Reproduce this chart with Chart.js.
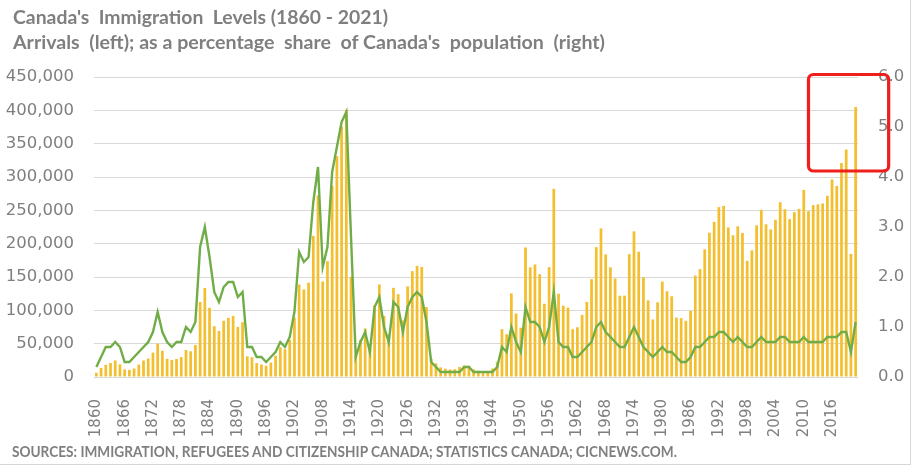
<!DOCTYPE html>
<html>
<head>
<meta charset="utf-8">
<title>Canada's Immigration Levels (1860 - 2021)</title>
<script src="https://cdn.jsdelivr.net/npm/chart.js@4.4.1/dist/chart.umd.min.js"></script>
<style>
  html, body { margin: 0; padding: 0; background: #fff; }
  #wrap { position: relative; width: 914px; height: 470px; overflow: hidden; }
  #frame { position: absolute; left: 0; top: 0; width: 910px; height: 464px;
           border-right: 1px solid #d6d6d6; border-bottom: 1px solid #d6d6d6; }
  canvas { position: absolute; left: 0; top: 0; }
  .txt { position: absolute; left: 13px; white-space: pre; line-height: 1;
         font-family: Lato, "Open Sans", sans-serif; font-weight: 700; color: #7f7f7f;
         transform-origin: left center; }
  #t1 { top: 8px; font-size: 18px; }
  #t2 { top: 33px; font-size: 18px; }
  #src { top: 444px; left: 12px; font-size: 15px; }
</style>
</head>
<body>
<div id="wrap">
  <div id="frame"></div>
  <canvas id="immigrationChart" width="914" height="470"></canvas>
  <div class="txt" id="t1" data-w="375">Canada's  Immigration  Levels (1860 - 2021)</div>
  <div class="txt" id="t2" data-w="592">Arrivals  (left); as a percentage  share  of Canada's  population  (right)</div>
  <div class="txt" id="src" data-w="665">SOURCES: IMMIGRATION, REFUGEES AND CITIZENSHIP CANADA; STATISTICS CANADA; CICNEWS.COM.</div>
</div>
<script>
// Años 1860 - 2021 (una categoría por año)
const years = [];
for (let y = 1860; y <= 2021; y++) years.push(String(y));

// Etiquetas visibles del eje X (cada 6 años)
const xTickLabels = ['1860', '1866', '1872', '1878', '1884', '1890', '1896', '1902', '1908',
  '1914', '1920', '1926', '1932', '1938', '1944', '1950', '1956', '1962', '1968', '1974',
  '1980', '1986', '1992', '1998', '2004', '2010', '2016'];

// Llegadas (eje izquierdo)
const arrivals = [
  6276, 13589, 18294, 21000, 24779, 18958, 11427, 10666, 12765, 18630,          // 1860s
  24706, 27773, 36578, 50050, 39373, 27382, 25633, 27082, 29807, 40492,         // 1870s
  38505, 47991, 112458, 133624, 103824, 76169, 69152, 84526, 88766, 91600,      // 1880s
  75067, 82165, 30996, 29633, 20829, 18790, 16835, 21716, 31900, 44543,         // 1890s
  41681, 55747, 89102, 138660, 131252, 141465, 211653, 272409, 143326, 173694,  // 1900s
  286839, 331288, 375756, 400870, 150484, 33665, 55914, 72910, 41845, 107698,   // 1910s
  138824, 91728, 64224, 133729, 124164, 84907, 135982, 158886, 166783, 164993,  // 1920s
  104806, 27530, 20591, 14382, 12476, 11277, 11643, 15101, 17244, 16994,        // 1930s
  11324, 9329, 7576, 8504, 12801, 22722, 71719, 64127, 125414, 95217,           // 1940s
  73912, 194391, 164498, 168868, 154227, 109946, 164857, 282164, 124851, 106928, // 1950s
  104111, 71689, 74586, 93151, 112606, 146758, 194743, 222876, 183974, 164531,  // 1960s
  147713, 121900, 122006, 184200, 218465, 187881, 149429, 114914, 86313, 112096, // 1970s
  143117, 128618, 121147, 89157, 88239, 84302, 99219, 152098, 161929, 191550,   // 1980s
  216452, 232744, 254817, 256641, 224364, 212504, 226073, 216038, 174200, 189954, // 1990s
  227458, 250638, 229048, 221349, 235823, 262242, 251640, 236753, 247243, 252179, // 2000s
  280681, 248748, 257887, 259023, 260404, 271845, 296346, 286479, 321035, 341180, // 2010s
  184606, 405000                                                                 // 2020-21
];

// Porcentaje de la población (eje derecho)
const shareOfPopulation = [
  0.2, 0.4, 0.6, 0.6, 0.7, 0.6, 0.3, 0.3, 0.4, 0.5,   // 1860s
  0.6, 0.7, 0.9, 1.3, 0.9, 0.7, 0.6, 0.7, 0.7, 1.0,   // 1870s
  0.9, 1.1, 2.6, 3.0, 2.4, 1.7, 1.5, 1.8, 1.9, 1.9,   // 1880s
  1.6, 1.7, 0.6, 0.6, 0.4, 0.4, 0.3, 0.4, 0.5, 0.7,   // 1890s
  0.6, 0.8, 1.3, 2.5, 2.3, 2.4, 3.5, 4.2, 2.2, 2.6,   // 1900s
  4.1, 4.6, 5.1, 5.3, 2.8, 0.4, 0.7, 0.9, 0.5, 1.4,   // 1910s
  1.6, 1.0, 0.7, 1.5, 1.4, 0.9, 1.4, 1.6, 1.7, 1.6,   // 1920s
  1.1, 0.3, 0.2, 0.1, 0.1, 0.1, 0.1, 0.1, 0.2, 0.2,   // 1930s
  0.1, 0.1, 0.1, 0.1, 0.1, 0.2, 0.6, 0.5, 1.0, 0.7,   // 1940s
  0.5, 1.4, 1.1, 1.1, 1.0, 0.7, 1.0, 1.7, 0.7, 0.6,   // 1950s
  0.6, 0.4, 0.4, 0.5, 0.6, 0.7, 1.0, 1.1, 0.9, 0.8,   // 1960s
  0.7, 0.6, 0.6, 0.8, 1.0, 0.8, 0.6, 0.5, 0.4, 0.5,   // 1970s
  0.6, 0.5, 0.5, 0.4, 0.3, 0.3, 0.4, 0.6, 0.6, 0.7,   // 1980s
  0.8, 0.8, 0.9, 0.9, 0.8, 0.7, 0.8, 0.7, 0.6, 0.6,   // 1990s
  0.7, 0.8, 0.7, 0.7, 0.7, 0.8, 0.8, 0.7, 0.7, 0.7,   // 2000s
  0.8, 0.7, 0.7, 0.7, 0.7, 0.8, 0.8, 0.8, 0.9, 0.9,   // 2010s
  0.5, 1.1                                             // 2020-21
];

// Ajuste de ancho de los textos (título y fuente)
document.querySelectorAll('.txt').forEach(function (el) {
  const target = parseFloat(el.dataset.w);
  const w = el.getBoundingClientRect().width;
  if (w > 0) el.style.transform = 'scaleX(' + (target / w) + ')';
});

const GREY = '#7f7f7f';

// Recuadro rojo (zona de los últimos años)
const highlightBox = {
  id: 'highlightBox',
  afterDraw(chart) {
    const { ctx, scales } = chart;
    const x = scales.x, y1 = scales.y1;
    const step = x.getPixelForValue(1) - x.getPixelForValue(0);
    const left = x.getPixelForValue(years.indexOf('2011'));
    const right = left + 17 * step;
    const top = y1.getPixelForValue(6.05);
    const bottom = y1.getPixelForValue(4.12);
    ctx.save();
    ctx.strokeStyle = '#ee1f1c';
    ctx.lineWidth = 3.2;
    ctx.beginPath();
    ctx.roundRect(left, top, right - left, bottom - top, 5);
    ctx.stroke();
    ctx.restore();
  }
};

const chartEl = document.getElementById('immigrationChart');
if (chartEl && typeof Chart !== 'undefined') {
  try {
    new Chart(chartEl.getContext('2d'), {
      type: 'bar',
      data: {
        labels: years,
        datasets: [
          {
            type: 'line',
            label: 'Share of population (%)',
            data: shareOfPopulation,
            yAxisID: 'y1',
            borderColor: '#70ad47',
            borderWidth: 2.4,
            pointRadius: 0,
            tension: 0,
            order: 0
          },
          {
            type: 'bar',
            label: 'Arrivals',
            data: arrivals,
            yAxisID: 'y',
            backgroundColor: '#f3bf2f',
            borderWidth: 0,
            categoryPercentage: 1.0,
            barPercentage: 0.58,
            order: 1
          }
        ]
      },
      options: {
        responsive: false,
        devicePixelRatio: 1,
        animation: false,
        layout: { padding: { top: 77, left: 0, right: 0, bottom: 0 } },
        plugins: {
          legend: { display: false },
          tooltip: { enabled: false },
          title: { display: false }
        },
        scales: {
          x: {
            type: 'category',
            offset: true,
            grid: { display: false },
            border: { display: false },
            ticks: {
              autoSkip: false,
              minRotation: 90,
              maxRotation: 90,
              padding: 14,
              color: GREY,
              font: { family: 'DejaVu Sans', size: 15 },
              callback: function (val) {
                const lbl = this.getLabelForValue(val);
                return xTickLabels.includes(lbl) ? lbl : '';
              }
            },
            afterFit: function (s) { s.height = 93; }
          },
          y: {
            position: 'left',
            min: 0,
            max: 450000,
            ticks: {
              stepSize: 50000,
              padding: 20,
              color: GREY,
              font: { family: 'DejaVu Sans', size: 16.5 },
              callback: function (v) { return v.toLocaleString('en-US'); }
            },
            grid: { color: '#d9d9d9', lineWidth: 1, drawTicks: false },
            border: { display: false },
            afterFit: function (s) { s.width = 94; }
          },
          y1: {
            position: 'right',
            min: 0,
            max: 6,
            ticks: {
              stepSize: 1,
              padding: 20,
              color: GREY,
              font: { family: 'DejaVu Sans', size: 16.5 },
              callback: function (v) { return v.toFixed(1); }
            },
            grid: { display: false, drawTicks: false },
            border: { display: false },
            afterFit: function (s) { s.width = 56; }
          }
        }
      },
      plugins: [highlightBox]
    });
  } catch (err) {
    console.error('Error inicializando el gráfico de inmigración:', err);
  }
}
</script>
</body>
</html>
